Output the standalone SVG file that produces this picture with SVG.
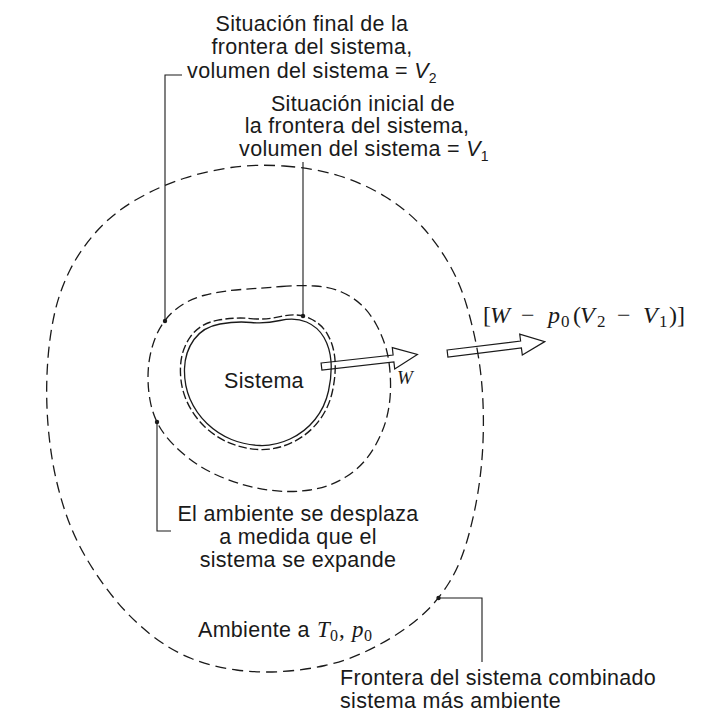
<svg xmlns="http://www.w3.org/2000/svg" width="705" height="713" viewBox="0 0 705 713">
<style>
.t{font-family:"Liberation Sans",Arial,sans-serif;font-size:21.5px;letter-spacing:0.3px;fill:#1a1a1a}
.m{font-family:"Liberation Serif","Times New Roman",serif;fill:#1a1a1a}
.i{font-style:italic}
.b{fill:none;stroke:#1a1a1a;stroke-width:1.3}
.ld{fill:none;stroke:#1a1a1a;stroke-width:1.1}
.dot{fill:#1a1a1a}
.ar{fill:none;stroke:#1a1a1a;stroke-width:1.2;stroke-linejoin:miter}
</style>
<rect width="705" height="713" fill="#fff"/>

<g id="outer-boundary">
<path class="b" stroke-dasharray="11 6" d="M 284,166 Q 313,168 338,175.5 Q 363,183 385,196.5 Q 407,210 422,226.5 Q 437,243 448.5,263 Q 460,283 466.5,305 Q 473,327 477,348.5 Q 481,370 482.5,393.5 Q 484,417 483,442 Q 482,467 478,492 Q 474,517 467,541 Q 460,565 449.5,582 Q 439,599 426,611.5 Q 413,624 396.5,634.5 Q 380,645 362.5,653 Q 345,661 325,665.5 Q 305,670 282.5,671.5 Q 260,673 236.5,670 Q 213,667 191.5,658.5 Q 170,650 150,634 Q 130,618 113.5,597.5 Q 97,577 84.5,555 Q 72,533 64,508 Q 56,483 52,458 Q 48,433 47,408 Q 46,383 48,358 Q 50,333 55,311.5 Q 60,290 70,270 Q 80,250 96.5,231.5 Q 113,213 136.5,199.5 Q 160,186 183.5,178.5 Q 207,171 231,167.5 Q 255,164 284,166 Z"/>
</g>

<g id="final-boundary">
<path class="b" stroke-dasharray="10 5" d="M 281.5,286.5 Q 300,285 315,286 Q 330,287 341.5,292 Q 353,297 361.5,305 Q 370,313 376.5,325 Q 383,337 386.5,350 Q 390,363 390.5,381.5 Q 391,400 387,416.5 Q 383,433 373,449.5 Q 363,466 346.5,476.5 Q 330,487 310,490 Q 290,493 268.5,490 Q 247,487 225,478.5 Q 203,470 186.5,456.5 Q 170,443 161.5,430 Q 153,417 150,400 Q 147,383 148.5,366.5 Q 150,350 156.5,335 Q 163,320 175,310 Q 187,300 203.5,295.5 Q 220,291 241.5,289.5 Q 263,288 281.5,286.5 Z"/>
</g>

<g id="initial-boundary">
<path class="b" stroke-dasharray="8 3" transform="translate(258 383) scale(1.055 1.065) translate(-258 -383)" d="M 251,322.5 Q 265,324 280,320.5 Q 295,317 306.5,322 Q 318,327 324,337.5 Q 330,348 331,361.5 Q 332,375 328.5,391 Q 325,407 315,419.5 Q 305,432 290,439 Q 275,446 260,445.5 Q 245,445 231.5,439.5 Q 218,434 207,423.5 Q 196,413 190,399 Q 184,385 184.5,368.5 Q 185,352 194,339.5 Q 203,327 220,324 Q 237,321 251,322.5 Z"/>
</g>

<g id="sistema">
<path class="b" stroke-width="1.5" d="M 251,322.5 Q 265,324 280,320.5 Q 295,317 306.5,322 Q 318,327 324,337.5 Q 330,348 331,361.5 Q 332,375 328.5,391 Q 325,407 315,419.5 Q 305,432 290,439 Q 275,446 260,445.5 Q 245,445 231.5,439.5 Q 218,434 207,423.5 Q 196,413 190,399 Q 184,385 184.5,368.5 Q 185,352 194,339.5 Q 203,327 220,324 Q 237,321 251,322.5 Z"/>
<text class="t" x="264" y="388" text-anchor="middle">Sistema</text>
</g>

<g id="connectors">
<polyline class="ld" points="182,75 165,75 165,321"/>
<circle class="dot" cx="165" cy="321" r="2.2"/>
<line class="ld" x1="303" y1="162" x2="303" y2="316"/>
<circle class="dot" cx="303" cy="316" r="2.2"/>
<polyline class="ld" points="157,422 157,531 171,531"/>
<circle class="dot" cx="157" cy="422" r="2.2"/>
<polyline class="ld" points="438.5,598 482,598 482,662"/>
<circle class="dot" cx="438.5" cy="598" r="2.2"/>
<polygon class="ar" points="321.1,363 393.1,355 392.3,347.6 417.4,354.5 394.7,368.9 393.9,362 321.9,370"/>
<polygon class="ar" points="447.1,350 520.6,341 519.7,334.1 544.8,341.6 522.3,354.9 521.4,348 447.9,357"/>
</g>

<g id="label-final">
<text class="t" x="312" y="31" text-anchor="middle">Situación final de la</text>
<text class="t" x="312" y="54" text-anchor="middle">frontera del sistema,</text>
<text class="t" x="312" y="77.5" text-anchor="middle">volumen del sistema = <tspan class="i">V</tspan><tspan font-size="14" dy="5">2</tspan></text>
</g>

<g id="label-initial">
<text class="t" x="363" y="111" text-anchor="middle">Situación inicial de</text>
<text class="t" x="357" y="133" text-anchor="middle">la frontera del sistema,</text>
<text class="t" x="364" y="155.5" text-anchor="middle">volumen del sistema = <tspan class="i">V</tspan><tspan font-size="14" dy="5">1</tspan></text>
</g>

<g id="label-W">
<text class="m i" x="397" y="384" font-size="19">W</text>
</g>

<g id="label-net-work">
<text class="m" font-size="24" y="323"><tspan x="483">[</tspan><tspan class="i" x="490">W</tspan><tspan x="521">−</tspan><tspan class="i" x="548">p</tspan><tspan x="561" y="327" font-size="17">0</tspan><tspan x="573" y="323">(</tspan><tspan class="i" x="580">V</tspan><tspan x="597" y="327" font-size="17">2</tspan><tspan x="617" y="323">−</tspan><tspan class="i" x="643">V</tspan><tspan x="659" y="327" font-size="17">1</tspan><tspan x="669" y="323">)]</tspan></text>
</g>

<g id="label-ambiente-desplaza">
<text class="t" x="298" y="521" text-anchor="middle">El ambiente se desplaza</text>
<text class="t" x="298" y="544" text-anchor="middle">a medida que el</text>
<text class="t" x="298" y="567" text-anchor="middle">sistema se expande</text>
</g>

<g id="label-ambiente">
<text class="t" x="198" y="637">Ambiente a</text>
<text class="m" font-size="23" y="637"><tspan class="i" x="317">T</tspan><tspan x="330" y="641" font-size="16">0</tspan><tspan x="339" y="637">,</tspan><tspan class="i" x="352">p</tspan><tspan x="364" y="641" font-size="16">0</tspan></text>
</g>

<g id="label-frontera-combinado">
<text class="t" x="340" y="685">Frontera del sistema combinado</text>
<text class="t" x="340" y="708">sistema más ambiente</text>
</g>
</svg>
